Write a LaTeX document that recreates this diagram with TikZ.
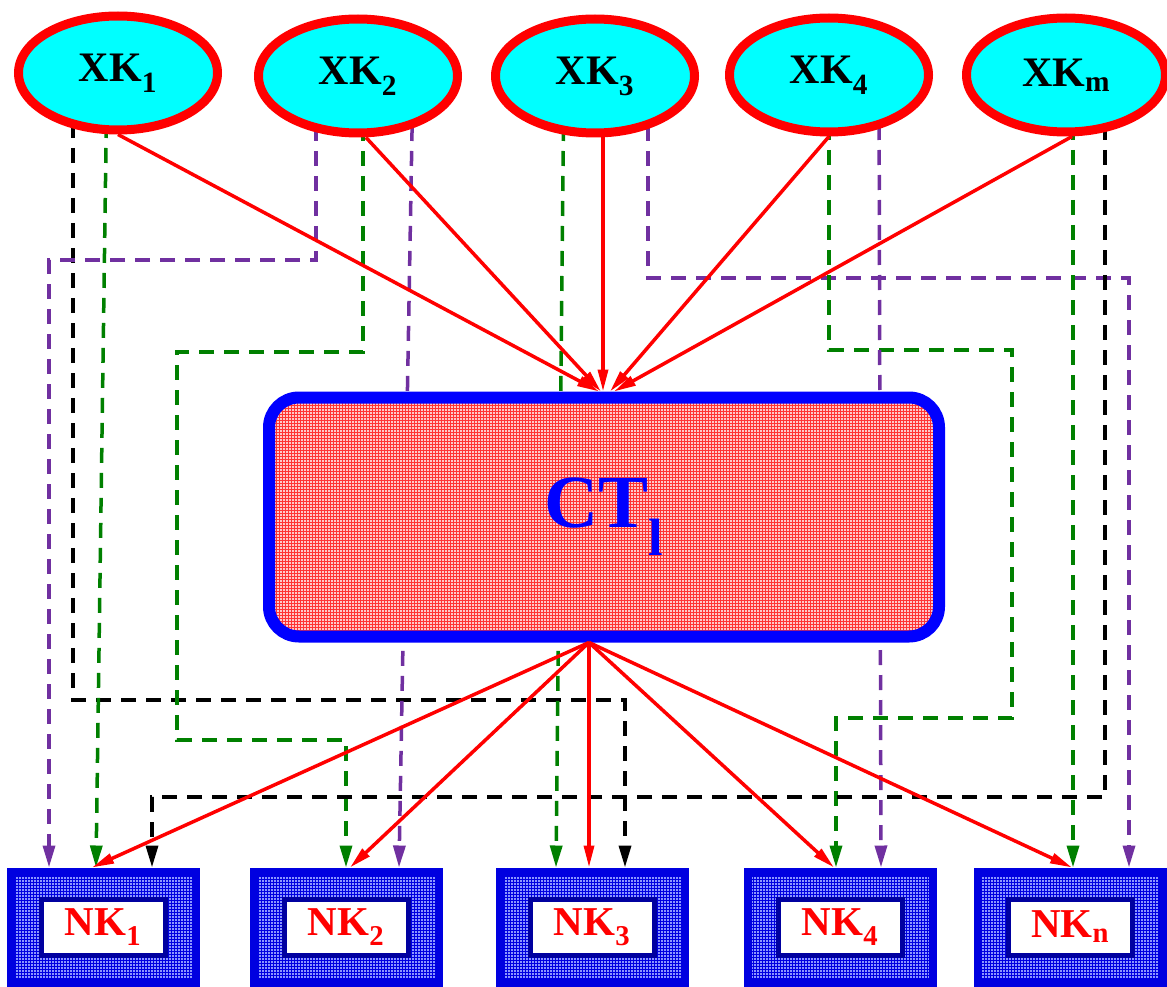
\documentclass[tikz,border=0pt]{standalone}
\usepackage{fontspec}
\setmainfont{Liberation Serif}
\usetikzlibrary{shapes.geometric,arrows.meta,patterns,backgrounds}
\definecolor{xkfill}{RGB}{0,255,255}
\definecolor{dgreen}{RGB}{0,128,0}
\definecolor{dviolet}{RGB}{112,48,160}
\definecolor{ctpink}{RGB}{255,200,200}
\definecolor{nkblue}{RGB}{0,0,224}
\definecolor{nklight}{RGB}{140,150,255}
\definecolor{nkdark}{RGB}{0,0,160}
\begin{document}
\begin{tikzpicture}[x=1pt,y=-1pt,
	xk/.style={ellipse,draw=red,line width=9pt,fill=xkfill,minimum width=199pt,minimum height=114pt,inner sep=0pt,font=\fontsize{42}{42}\selectfont\bfseries},
	ct/.style={draw=blue,line width=12pt,rounded corners=30pt,minimum width=670pt,minimum height=239pt,preaction={fill=ctpink},pattern=grid,pattern color=red!80,text=blue,font=\fontsize{75}{75}\selectfont\bfseries},
	nk/.style={draw=nkblue,line width=8pt,minimum width=185pt,minimum height=111pt,inner sep=0pt,preaction={fill=nklight},pattern=grid,pattern color=nkblue},
	nkin/.style={draw=nkdark,line width=5pt,fill=white,minimum width=124pt,minimum height=56pt,inner sep=0pt,text=red,font=\fontsize{41}{41}\selectfont\bfseries},
	link/.style={red,line width=3.5pt,-{Triangle[length=22pt,width=10pt]}},
	dsh/.style={line width=3.5pt,dash pattern=on 15pt off 10pt,-{Triangle[length=22pt,width=12pt]}}]
	\useasboundingbox(0,0)rectangle(1167,987);
	\foreach\n/\x/\y in{1/118/73,2/358/76,3/595/76,4/829/75,m/1066/75}{\node[xk](XK\n)at(\x,\y){XK\textsubscript{\n}};}
	\node[ct](CT)at(604,517){CT\textsubscript{l}};
	\foreach\n/\x in{1/103,2/346,3/592,4/840,n/1070}{
		\node[nk](NK\n)at(\x,927){};
		\node[nkin](NKt\n)at(NK\n){NK\textsubscript{\n}};}
	\coordinate(ctout)at([xshift=-15pt]CT.south);
	\foreach\n/\s/\t in{1/0/-5,2/8/-3,3/8/-1,4/0/6,m/6/10}{\draw[link]([xshift=\s pt]XK\n.south)--([xshift=\t pt]CT.north);}
	\foreach\n/\t in{1/-11,2/4,3/-3,4/-6,n/2}{\draw[link](ctout)--([xshift=\t pt]NK\n.north);}
	\begin{scope}[on background layer]
		\draw[dsh](XK1.center)++(-45,0)--++(0,627)-|([xshift=33pt]NK3.north);
		\draw[dsh,dgreen]([xshift=-11pt]XK1.center)--([xshift=-7pt]NK1.north);
		\draw[dsh,dviolet]([xshift=-42pt]XK2.center)--++(0,184)-|([xshift=-54pt]NK1.north);
		\draw[dsh,dgreen]([xshift=5pt]XK2.center)--++(0,276)--++(-186,0)--++(0,388)-|(NK2.north);
		\draw[dsh,dviolet]([xshift=55pt]XK2.center)--([xshift=53pt]NK2.north);
		\draw[dsh,dgreen]([xshift=-31pt]XK3.center)--([xshift=-36pt]NK3.north);
		\draw[dsh,dviolet]([xshift=53pt]XK3.center)--++(0,202)-|([xshift=59pt]NKn.north);
		\draw[dsh,dgreen](XK4.center)--++(0,275)--++(183,0)--++(0,368)-|([xshift=-4pt]NK4.north);
		\draw[dsh,dviolet]([xshift=50pt]XK4.center)--([xshift=41pt]NK4.north);
		\draw[dsh,dgreen]([xshift=7pt]XKm.center)--([xshift=3pt]NKn.north);
		\draw[dsh]([xshift=39pt]XKm.center)--++(0,722)-|([xshift=49pt]NK1.north);
	\end{scope}
\end{tikzpicture}
\end{document}
